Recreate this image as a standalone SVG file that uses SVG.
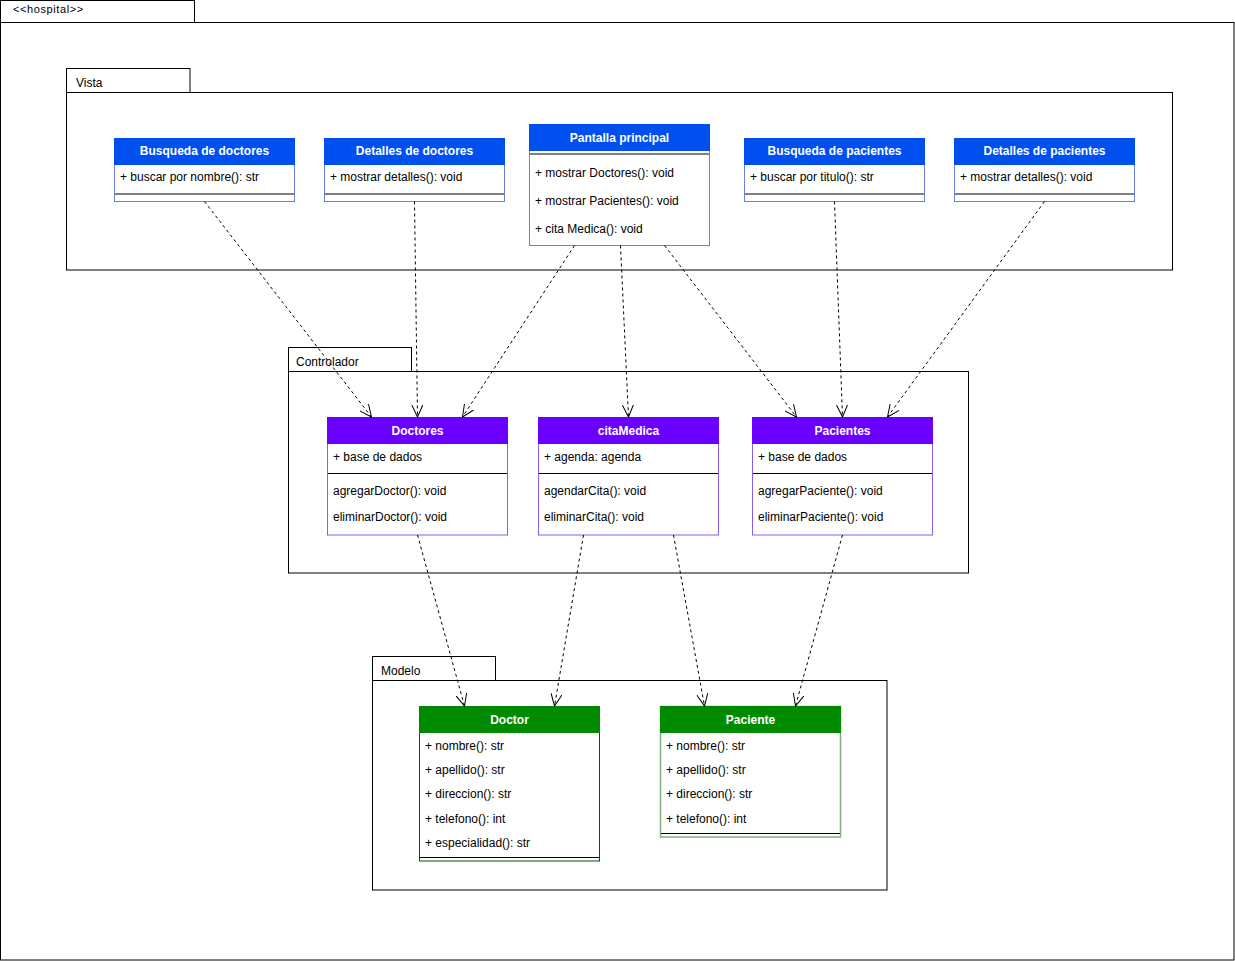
<svg xmlns="http://www.w3.org/2000/svg" width="1235" height="961" viewBox="0 0 1235 961">
<defs>
<style>
text{font-family:"Liberation Sans",Arial,sans-serif;font-size:12px;fill:#000}
.pkg{fill:#fff;stroke:#000;stroke-width:1}
.hd{font-weight:bold;fill:#fff;text-anchor:middle}
.b{fill:#0050ef;stroke:#0050ef}
.p{fill:#6a00ff;stroke:#6a00ff}
.g{fill:#008a00;stroke:#008a00}
.bb{fill:#fff;stroke:#6a7fdc}
.pb{fill:#fff;stroke:#8a5cf0}
.gb{fill:#fff;stroke:#005700}
.gb2{fill:#fff;stroke:#7fae7f;stroke-width:1.5}
.dv{stroke:#000;stroke-width:1}
.dep{fill:none;stroke:#000;stroke-width:1;stroke-dasharray:3 3;marker-end:url(#open)}
</style>
<marker id="open" markerWidth="14" markerHeight="12" refX="12" refY="6" orient="auto" markerUnits="userSpaceOnUse">
<path d="M0,0.5 L12,6 L0,11.5" fill="none" stroke="#000" stroke-width="1"/>
</marker>
</defs>
<rect width="1235" height="961" fill="#fff"/>

<g id="pkg-hospital">
<rect class="pkg" x="0.5" y="0.5" width="194" height="22"/>
<rect class="pkg" x="0.5" y="22.5" width="1233.5" height="937.5"/>
<text x="13" y="13" style="font-size:11px;letter-spacing:0.6px">&lt;&lt;hospital&gt;&gt;</text>
</g>

<g id="pkg-vista">
<rect class="pkg" x="66.5" y="68.5" width="123.5" height="24"/>
<rect class="pkg" x="66.5" y="92.5" width="1106" height="177.5"/>
<text x="76" y="87">Vista</text>
</g>

<g id="pkg-controlador">
<rect class="pkg" x="288.5" y="347.5" width="123" height="24"/>
<rect class="pkg" x="288.5" y="371.5" width="680" height="201.5"/>
<text x="296" y="366">Controlador</text>
</g>

<g id="pkg-modelo">
<rect class="pkg" x="372.5" y="656.5" width="123" height="24"/>
<rect class="pkg" x="372.5" y="680.5" width="514.5" height="209.5"/>
<text x="381" y="675">Modelo</text>
</g>

<g id="busqueda-doctores">
<rect class="bb" x="114.5" y="138.5" width="180" height="63"/>
<rect class="b" x="114.5" y="138.5" width="180" height="26"/>
<text class="hd" x="204.5" y="155">Busqueda de doctores</text>
<text x="120" y="181">+ buscar por nombre(): str</text>
<line class="dv" x1="115" y1="194" x2="294" y2="194"/>
</g>

<g id="detalles-doctores">
<rect class="bb" x="324.5" y="138.5" width="180" height="63"/>
<rect class="b" x="324.5" y="138.5" width="180" height="26"/>
<text class="hd" x="414.5" y="155">Detalles de doctores</text>
<text x="330" y="181">+ mostrar detalles(): void</text>
<line class="dv" x1="325" y1="194" x2="504" y2="194"/>
</g>

<g id="pantalla-principal">
<rect class="bb" x="529.5" y="124.5" width="180" height="121"/>
<rect class="b" x="529.5" y="124.5" width="180" height="26"/>
<text class="hd" x="619.5" y="142">Pantalla principal</text>
<line class="dv" x1="530" y1="154" x2="709" y2="154"/>
<text x="535" y="177">+ mostrar Doctores(): void</text>
<text x="535" y="205">+ mostrar Pacientes(): void</text>
<text x="535" y="233">+ cita Medica(): void</text>
</g>

<g id="busqueda-pacientes">
<rect class="bb" x="744.5" y="138.5" width="180" height="63"/>
<rect class="b" x="744.5" y="138.5" width="180" height="26"/>
<text class="hd" x="834.5" y="155">Busqueda de pacientes</text>
<text x="750" y="181">+ buscar por titulo(): str</text>
<line class="dv" x1="745" y1="194" x2="924" y2="194"/>
</g>

<g id="detalles-pacientes">
<rect class="bb" x="954.5" y="138.5" width="180" height="63"/>
<rect class="b" x="954.5" y="138.5" width="180" height="26"/>
<text class="hd" x="1044.5" y="155">Detalles de pacientes</text>
<text x="960" y="181">+ mostrar detalles(): void</text>
<line class="dv" x1="955" y1="194" x2="1134" y2="194"/>
</g>

<g id="doctores">
<rect class="pb" x="327.5" y="417.5" width="180" height="117.5"/>
<rect class="p" x="327.5" y="417.5" width="180" height="26"/>
<text class="hd" x="417.5" y="435">Doctores</text>
<text x="333" y="461">+ base de dados</text>
<line class="dv" x1="328" y1="473.5" x2="507" y2="473.5"/>
<text x="333" y="495">agregarDoctor(): void</text>
<text x="333" y="521">eliminarDoctor(): void</text>
</g>

<g id="citamedica">
<rect class="pb" x="538.5" y="417.5" width="180" height="117.5"/>
<rect class="p" x="538.5" y="417.5" width="180" height="26"/>
<text class="hd" x="628.5" y="435">citaMedica</text>
<text x="544" y="461">+ agenda: agenda</text>
<line class="dv" x1="539" y1="473.5" x2="718" y2="473.5"/>
<text x="544" y="495">agendarCita(): void</text>
<text x="544" y="521">eliminarCita(): void</text>
</g>

<g id="pacientes">
<rect class="pb" x="752.5" y="417.5" width="180" height="117.5"/>
<rect class="p" x="752.5" y="417.5" width="180" height="26"/>
<text class="hd" x="842.5" y="435">Pacientes</text>
<text x="758" y="461">+ base de dados</text>
<line class="dv" x1="753" y1="473.5" x2="932" y2="473.5"/>
<text x="758" y="495">agregarPaciente(): void</text>
<text x="758" y="521">eliminarPaciente(): void</text>
</g>

<g id="doctor">
<rect class="gb" x="419.5" y="706.5" width="180" height="154.5"/>
<rect class="g" x="419.5" y="706.5" width="180" height="26"/>
<text class="hd" x="509.5" y="724">Doctor</text>
<text x="425" y="750">+ nombre(): str</text>
<text x="425" y="774">+ apellido(): str</text>
<text x="425" y="798">+ direccion(): str</text>
<text x="425" y="823">+ telefono(): int</text>
<text x="425" y="847">+ especialidad(): str</text>
<line class="dv" x1="420" y1="857.5" x2="599" y2="857.5"/>
</g>

<g id="paciente">
<rect class="gb2" x="660.5" y="706.5" width="180" height="130.5"/>
<rect class="g" x="660.5" y="706.5" width="180" height="26"/>
<text class="hd" x="750.5" y="724">Paciente</text>
<text x="666" y="750">+ nombre(): str</text>
<text x="666" y="774">+ apellido(): str</text>
<text x="666" y="798">+ direccion(): str</text>
<text x="666" y="823">+ telefono(): int</text>
<line class="dv" x1="661" y1="833.5" x2="840" y2="833.5"/>
</g>

<g id="connectors">
<line class="dep" x1="204.5" y1="201.5" x2="371.5" y2="417"/>
<line class="dep" x1="414.5" y1="201.5" x2="417.5" y2="417"/>
<line class="dep" x1="574.5" y1="245.5" x2="462.5" y2="417"/>
<line class="dep" x1="620.5" y1="245.5" x2="628.5" y2="417"/>
<line class="dep" x1="664.5" y1="245.5" x2="796.5" y2="417"/>
<line class="dep" x1="834.5" y1="201.5" x2="842.5" y2="417"/>
<line class="dep" x1="1044.5" y1="201.5" x2="887.5" y2="417"/>
<line class="dep" x1="417.5" y1="535" x2="464.5" y2="706"/>
<line class="dep" x1="583.5" y1="535" x2="554.5" y2="706"/>
<line class="dep" x1="673.5" y1="535" x2="704.5" y2="706"/>
<line class="dep" x1="842.5" y1="535" x2="795.5" y2="706"/>
</g>
</svg>
